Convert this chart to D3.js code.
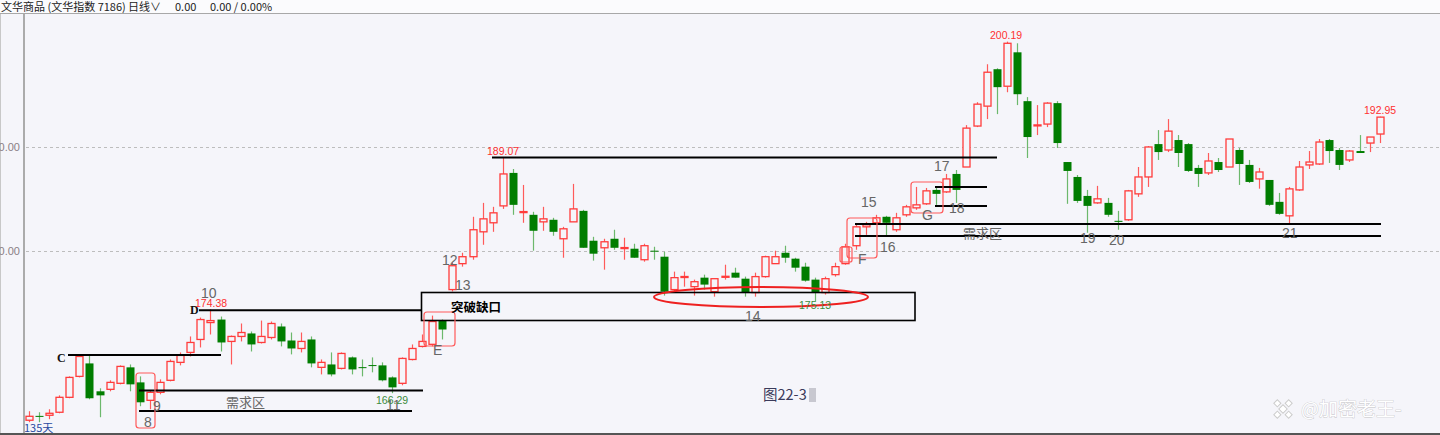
<!DOCTYPE html>
<html><head><meta charset="utf-8">
<script src="https://cdn.jsdelivr.net/npm/d3@7"></script>
<style>
html,body{margin:0;padding:0;background:#f5f5fa;overflow:hidden}
svg{display:block}
</style></head><body>
<svg id="c" width="1440" height="435"></svg>
<script>
// ---- data ----
const opens  = [163.68,164.10,164.16,164.45,165.89,167.91,169.16,166.47,166.66,167.24,168.78,167.33,165.60,166.37,167.53,169.26,170.22,171.47,173.10,173.39,
171.28,171.76,172.05,171.18,171.66,172.72,171.37,170.60,171.47,168.78,169.06,168.68,169.74,168.80,169.00,168.97,167.81,167.24,169.54,170.80,
171.00,173.29,176.28,178.78,179.45,181.85,182.72,184.35,187.53,183.77,183.49,182.81,183.01,181.18,182.81,183.87,180.99,180.31,181.18,180.29,
180.22,179.16,180.03,179.45,176.28,177.50,176.56,177.43,176.08,177.52,177.91,177.33,175.99,177.53,178.78,179.83,179.26,178.49,177.24,175.99,
177.72,178.78,180.51,182.33,182.72,183.30,182.05,183.49,184.16,184.55,185.89,185.70,187.43,188.10,192.05,193.97,197.53,195.89,199.16,194.45,
192.12,192.24,194.26,188.58,187.14,185.31,184.64,184.64,182.91,183.01,185.51,187.14,190.31,189.74,190.70,190.31,188.01,187.53,188.58,188.10,
189.74,188.30,186.95,186.85,184.74,183.39,185.89,188.30,188.39,190.70,189.74,188.78,189.64,190.41,191.28];
const highs  = [164.55,164.45,164.74,166.08,167.91,170.03,170.03,166.76,167.53,168.97,169.06,167.91,166.56,167.62,169.54,170.22,171.76,173.58,174.38,173.68,
171.85,173.01,172.24,173.29,173.20,173.01,172.14,172.14,171.76,169.54,170.22,170.22,169.83,169.54,169.74,169.26,167.91,169.74,170.99,171.95,
173.77,173.40,178.87,179.83,183.30,184.64,184.26,189.07,187.91,186.37,183.78,184.26,183.20,182.33,186.47,183.97,181.37,181.18,182.05,181.28,
180.70,180.70,180.41,179.93,178.01,178.01,177.24,177.72,177.33,178.68,178.39,177.53,177.91,179.55,180.03,180.51,179.35,178.87,177.43,177.53,
178.87,180.70,182.53,182.81,183.49,183.39,183.68,184.45,186.18,186.08,186.08,187.43,187.81,192.14,194.35,198.01,197.62,200.19,200.03,194.84,
194.07,194.35,194.45,188.58,187.33,185.89,186.28,185.12,183.87,185.89,188.10,190.12,191.66,192.72,191.18,190.41,188.30,189.45,188.97,190.80,
189.93,188.78,188.01,186.85,185.60,186.18,188.68,189.64,190.80,190.80,189.93,189.74,191.18,190.99,192.95];
const lows   = [163.49,163.49,163.78,164.35,165.80,167.81,165.70,163.97,166.47,167.14,166.47,165.03,164.74,166.18,167.43,168.97,169.83,170.70,171.95,170.31,
169.06,171.28,170.31,171.08,171.47,170.80,170.03,170.22,168.78,168.10,167.91,168.58,168.10,167.91,168.30,167.43,166.29,167.05,169.45,170.70,
170.80,171.47,176.10,178.49,179.16,180.60,181.85,184.06,183.49,182.72,180.03,181.95,181.47,179.35,182.81,180.31,179.07,178.20,180.12,179.16,
179.35,178.97,179.16,175.70,176.08,176.56,175.70,176.28,175.60,177.24,177.43,175.60,175.60,177.43,178.78,178.87,178.01,177.04,175.13,175.80,
177.53,178.68,180.12,181.56,182.53,181.47,181.85,183.30,183.97,184.45,184.45,185.60,184.64,188.10,191.95,192.72,193.20,195.31,194.07,188.97,
191.18,191.95,189.93,184.55,184.64,181.76,184.55,183.30,182.05,182.91,185.22,186.18,188.78,189.54,188.10,187.62,186.18,187.33,187.62,188.10,
186.37,186.56,186.01,184.35,183.49,182.62,185.80,187.91,188.30,188.49,187.81,188.58,189.45,189.54,190.41];
const closes = [164.06,164.02,164.35,165.89,167.81,169.83,165.80,166.08,167.33,168.87,167.14,165.41,166.37,167.33,169.35,169.93,171.18,173.39,173.29,171.18,
171.76,172.14,170.99,171.76,173.01,171.28,170.60,171.28,169.16,169.26,168.10,170.12,168.58,168.76,168.95,167.53,166.85,169.64,170.60,171.28,
173.20,172.43,178.58,179.45,182.05,183.10,183.68,187.43,184.45,183.80,181.95,183.10,181.85,182.14,184.06,180.31,179.74,180.89,180.31,180.33,
179.35,180.51,179.98,176.08,177.43,177.54,177.04,176.76,177.33,177.56,177.43,175.99,177.53,179.45,179.45,179.35,178.39,177.14,175.99,177.33,
178.49,180.41,182.33,182.53,183.20,182.72,183.20,184.26,184.45,185.80,185.51,186.95,185.89,191.85,194.16,197.24,195.80,200.03,195.12,190.99,
192.16,194.26,190.41,187.72,184.83,184.35,185.03,183.49,182.81,185.80,187.14,190.03,189.54,191.56,189.45,187.72,187.43,188.68,187.81,190.80,
188.39,186.66,187.62,184.45,183.58,185.99,188.10,188.58,190.51,189.64,188.30,189.64,189.45,190.99,192.91];
const yTicks = [180, 190];
const headerParts = ["文华商品 (文华指数 7186)", "日线∨", "0.00", "0.00 / 0.00%"];
const dayCount = "135天";

// ---- chart ----
const svg = d3.select("#c");
const W = 1440, H = 435;
const n = opens.length;
const x = d3.scaleLinear().domain([0, n - 1]).range([29, 1379.7]);
const y = d3.scaleLinear().domain([180, 190]).range([251, 147.3]);

const BG = "#f5f5fa", RED = "#ff3b3b", REDW = "#ff5a5a", GRN = "#007d00", GRNW = "#6cb86c";

svg.append("rect").attr("width", W).attr("height", H).attr("fill", BG);
// header
svg.append("rect").attr("width", W).attr("height", 13).attr("fill", "#fbfbfd");
svg.append("line").attr("x1", 0).attr("x2", W).attr("y1", 13.5).attr("y2", 13.5).attr("stroke", "#a8a8a8");
const hx = [1, 128, 175, 210];
headerParts.forEach((t, i) => {
  svg.append("text").attr("x", hx[i]).attr("y", 11).attr("font-family", "Noto Sans CJK SC, sans-serif")
    .attr("font-size", 11).attr("fill", "#222").text(t);
});
// left axis column
svg.append("line").attr("x1", 24).attr("x2", 24).attr("y1", 14).attr("y2", H).attr("stroke", "#ababab").attr("stroke-width", 2);
svg.append("line").attr("x1", 0.5).attr("x2", 0.5).attr("y1", 14).attr("y2", H).attr("stroke", "#c8c8c8");
// grid + tick labels
const yAxis = d3.axisLeft(y).tickValues(yTicks).tickSize(0).tickFormat(d3.format(".2f"));
const ga = svg.append("g").attr("transform", "translate(23,0)").call(yAxis);
ga.select(".domain").remove();
ga.selectAll("text").attr("font-family", "Liberation Sans, Arial, sans-serif").attr("font-size", 11).attr("fill", "#8a7f86").attr("dx", 0);
yTicks.forEach(v => {
  svg.append("line").attr("x1", 26).attr("x2", W).attr("y1", Math.round(y(v)) + 0.5).attr("y2", Math.round(y(v)) + 0.5)
    .attr("stroke", "#bdbdbd").attr("stroke-dasharray", "3,3");
});
// bottom border
svg.append("rect").attr("x", 0).attr("y", 433).attr("width", W).attr("height", 2).attr("fill", "#555");

// candles
const data = d3.range(n).map(i => ({ i, o: opens[i], h: highs[i], l: lows[i], c: closes[i] }));
const g = svg.append("g");
const bw = 7;
data.forEach(d => {
  const cx = Math.round(x(d.i)) + 0.5;
  const up = d.c >= d.o;
  const top = y(Math.max(d.o, d.c)), bot = y(Math.min(d.o, d.c));
  g.append("line").attr("x1", cx).attr("x2", cx).attr("y1", y(d.h)).attr("y2", y(d.l))
    .attr("stroke", up ? REDW : GRNW).attr("stroke-width", 1.2);
  const hgt = Math.max(1, bot - top);
  if (up) {
    g.append("rect").attr("x", cx - bw / 2).attr("y", top).attr("width", bw).attr("height", hgt)
      .attr("fill", BG).attr("stroke", RED).attr("stroke-width", 1.3);
  } else {
    g.append("rect").attr("x", cx - bw / 2 - 0.5).attr("y", top).attr("width", bw + 1).attr("height", hgt)
      .attr("fill", GRN).attr("stroke", "none");
  }
});

// ---- annotations ----
const ann = svg.append("g");
function hline(x1, x2, yy) {
  ann.append("line").attr("x1", x1).attr("x2", x2).attr("y1", yy).attr("y2", yy).attr("stroke", "#000").attr("stroke-width", 2);
}
function label(t, xx, yy, opt = {}) {
  ann.append("text").attr("x", xx).attr("y", yy).text(t)
    .attr("font-family", opt.ff || "Liberation Sans, Arial, sans-serif")
    .attr("font-size", opt.fs || 14).attr("fill", opt.fill || "#666")
    .attr("font-weight", opt.fw || "normal").attr("text-anchor", opt.anchor || "start");
}
function rbox(x1, y1, x2, y2, col, sw, r) {
  ann.append("rect").attr("x", x1).attr("y", y1).attr("width", x2 - x1).attr("height", y2 - y1)
    .attr("rx", r).attr("fill", "none").attr("stroke", col).attr("stroke-width", sw);
}
// lines
hline(68, 221, 355);                 // C
hline(199, 421, y(174.38) + 1);      // D
hline(139, 423, 390.5);
hline(139, 412, 411);
hline(492, 997, y(189.07) + 0.5);
hline(935, 987, 187);
hline(935, 987, 206);
hline(855, 1381, 224);
hline(855, 1381, 236);
// boxes
rbox(421.5, 292.5, 915, 320.5, "#000", 1.6, 0);
rbox(136, 373, 155, 428, "#ff5a5a", 1.2, 3);
rbox(424, 312, 455, 346, "#ff5a5a", 1.2, 3);
rbox(847, 218, 877, 258, "#ff5a5a", 1.2, 3);
rbox(840, 247, 852, 262, "#ff5a5a", 1.2, 2);
rbox(911, 182, 943, 213, "#ff5a5a", 1.2, 3);
ann.append("ellipse").attr("cx", 761).attr("cy", 297).attr("rx", 107).attr("ry", 10)
  .attr("fill", "none").attr("stroke", "#ee2020").attr("stroke-width", 2);
// letters
label("C", 57, 362, { ff: "Liberation Serif, serif", fw: "bold", fill: "#111", fs: 12 });
label("D", 190, 314, { ff: "Liberation Serif, serif", fw: "bold", fill: "#111", fs: 12 });
label("E", 433, 355, { fs: 14 });
label("F", 858, 264, { fs: 14 });
label("G", 922, 220, { fs: 14 });
// numbers
[["10", 201, 298], ["9", 153, 411], ["8", 144, 427], ["11", 386, 410], ["12", 442, 265], ["13", 455, 290],
 ["14", 745, 321], ["15", 861, 207], ["16", 880, 252], ["17", 934, 171], ["18", 949, 213],
 ["19", 1080, 243], ["20", 1109, 245], ["21", 1282, 238]].forEach(a => label(a[0], a[1], a[2], { fs: 14 }));
// price labels
label("174.38", 195, 307, { fs: 10.5, fill: "#ff3030" });
label("189.07", 487, 155, { fs: 10.5, fill: "#ff3030" });
label("200.19", 990, 39, { fs: 10.5, fill: "#ff3030" });
label("192.95", 1364, 114, { fs: 10.5, fill: "#ff3030" });
label("166.29", 376, 404, { fs: 10.5, fill: "#3c8c3c" });
label("175.13", 799, 309, { fs: 10.5, fill: "#3c8c3c" });
label(dayCount, 24, 432, { fs: 11, fill: "#2a4aa0", ff: "Noto Sans CJK SC, sans-serif" });
// chinese labels
label("需求区", 226, 407, { fs: 13, fill: "#666", ff: "Noto Sans CJK SC, sans-serif" });
label("需求区", 963, 238, { fs: 13, fill: "#666", ff: "Noto Sans CJK SC, sans-serif" });
label("突破缺口", 451, 312, { fs: 12.5, fill: "#000", fw: "bold", ff: "Noto Sans CJK SC, sans-serif" });
label("图22-3", 763, 400, { fs: 14.5, fill: "#3a3a5a", ff: "Noto Sans CJK SC, sans-serif" });
ann.append("rect").attr("x", 809).attr("y", 388).attr("width", 7).attr("height", 14).attr("fill", "#c8c8d0");
// watermark
const wm = svg.append("g");
wm.append("text").attr("x", 1301).attr("y", 416).text("@加密老王-")
  .attr("font-family", "Noto Sans CJK SC, sans-serif").attr("font-size", 19).attr("fill", "#fff")
  .attr("stroke", "#bdbdc2").attr("stroke-width", 0.7).attr("paint-order", "stroke");
const lg = wm.append("g").attr("transform", "translate(1283,409) rotate(45)");
lg.append("rect").attr("x", -3).attr("y", -3).attr("width", 6).attr("height", 6).attr("fill", "#fff").attr("stroke", "#ccc");
[[-8, 0], [8, 0], [0, -8], [0, 8]].forEach(p => lg.append("rect").attr("x", p[0] - 2.5).attr("y", p[1] - 2.5).attr("width", 5).attr("height", 5)
  .attr("fill", "#fff").attr("stroke", "#ccc"));
</script></body></html>
